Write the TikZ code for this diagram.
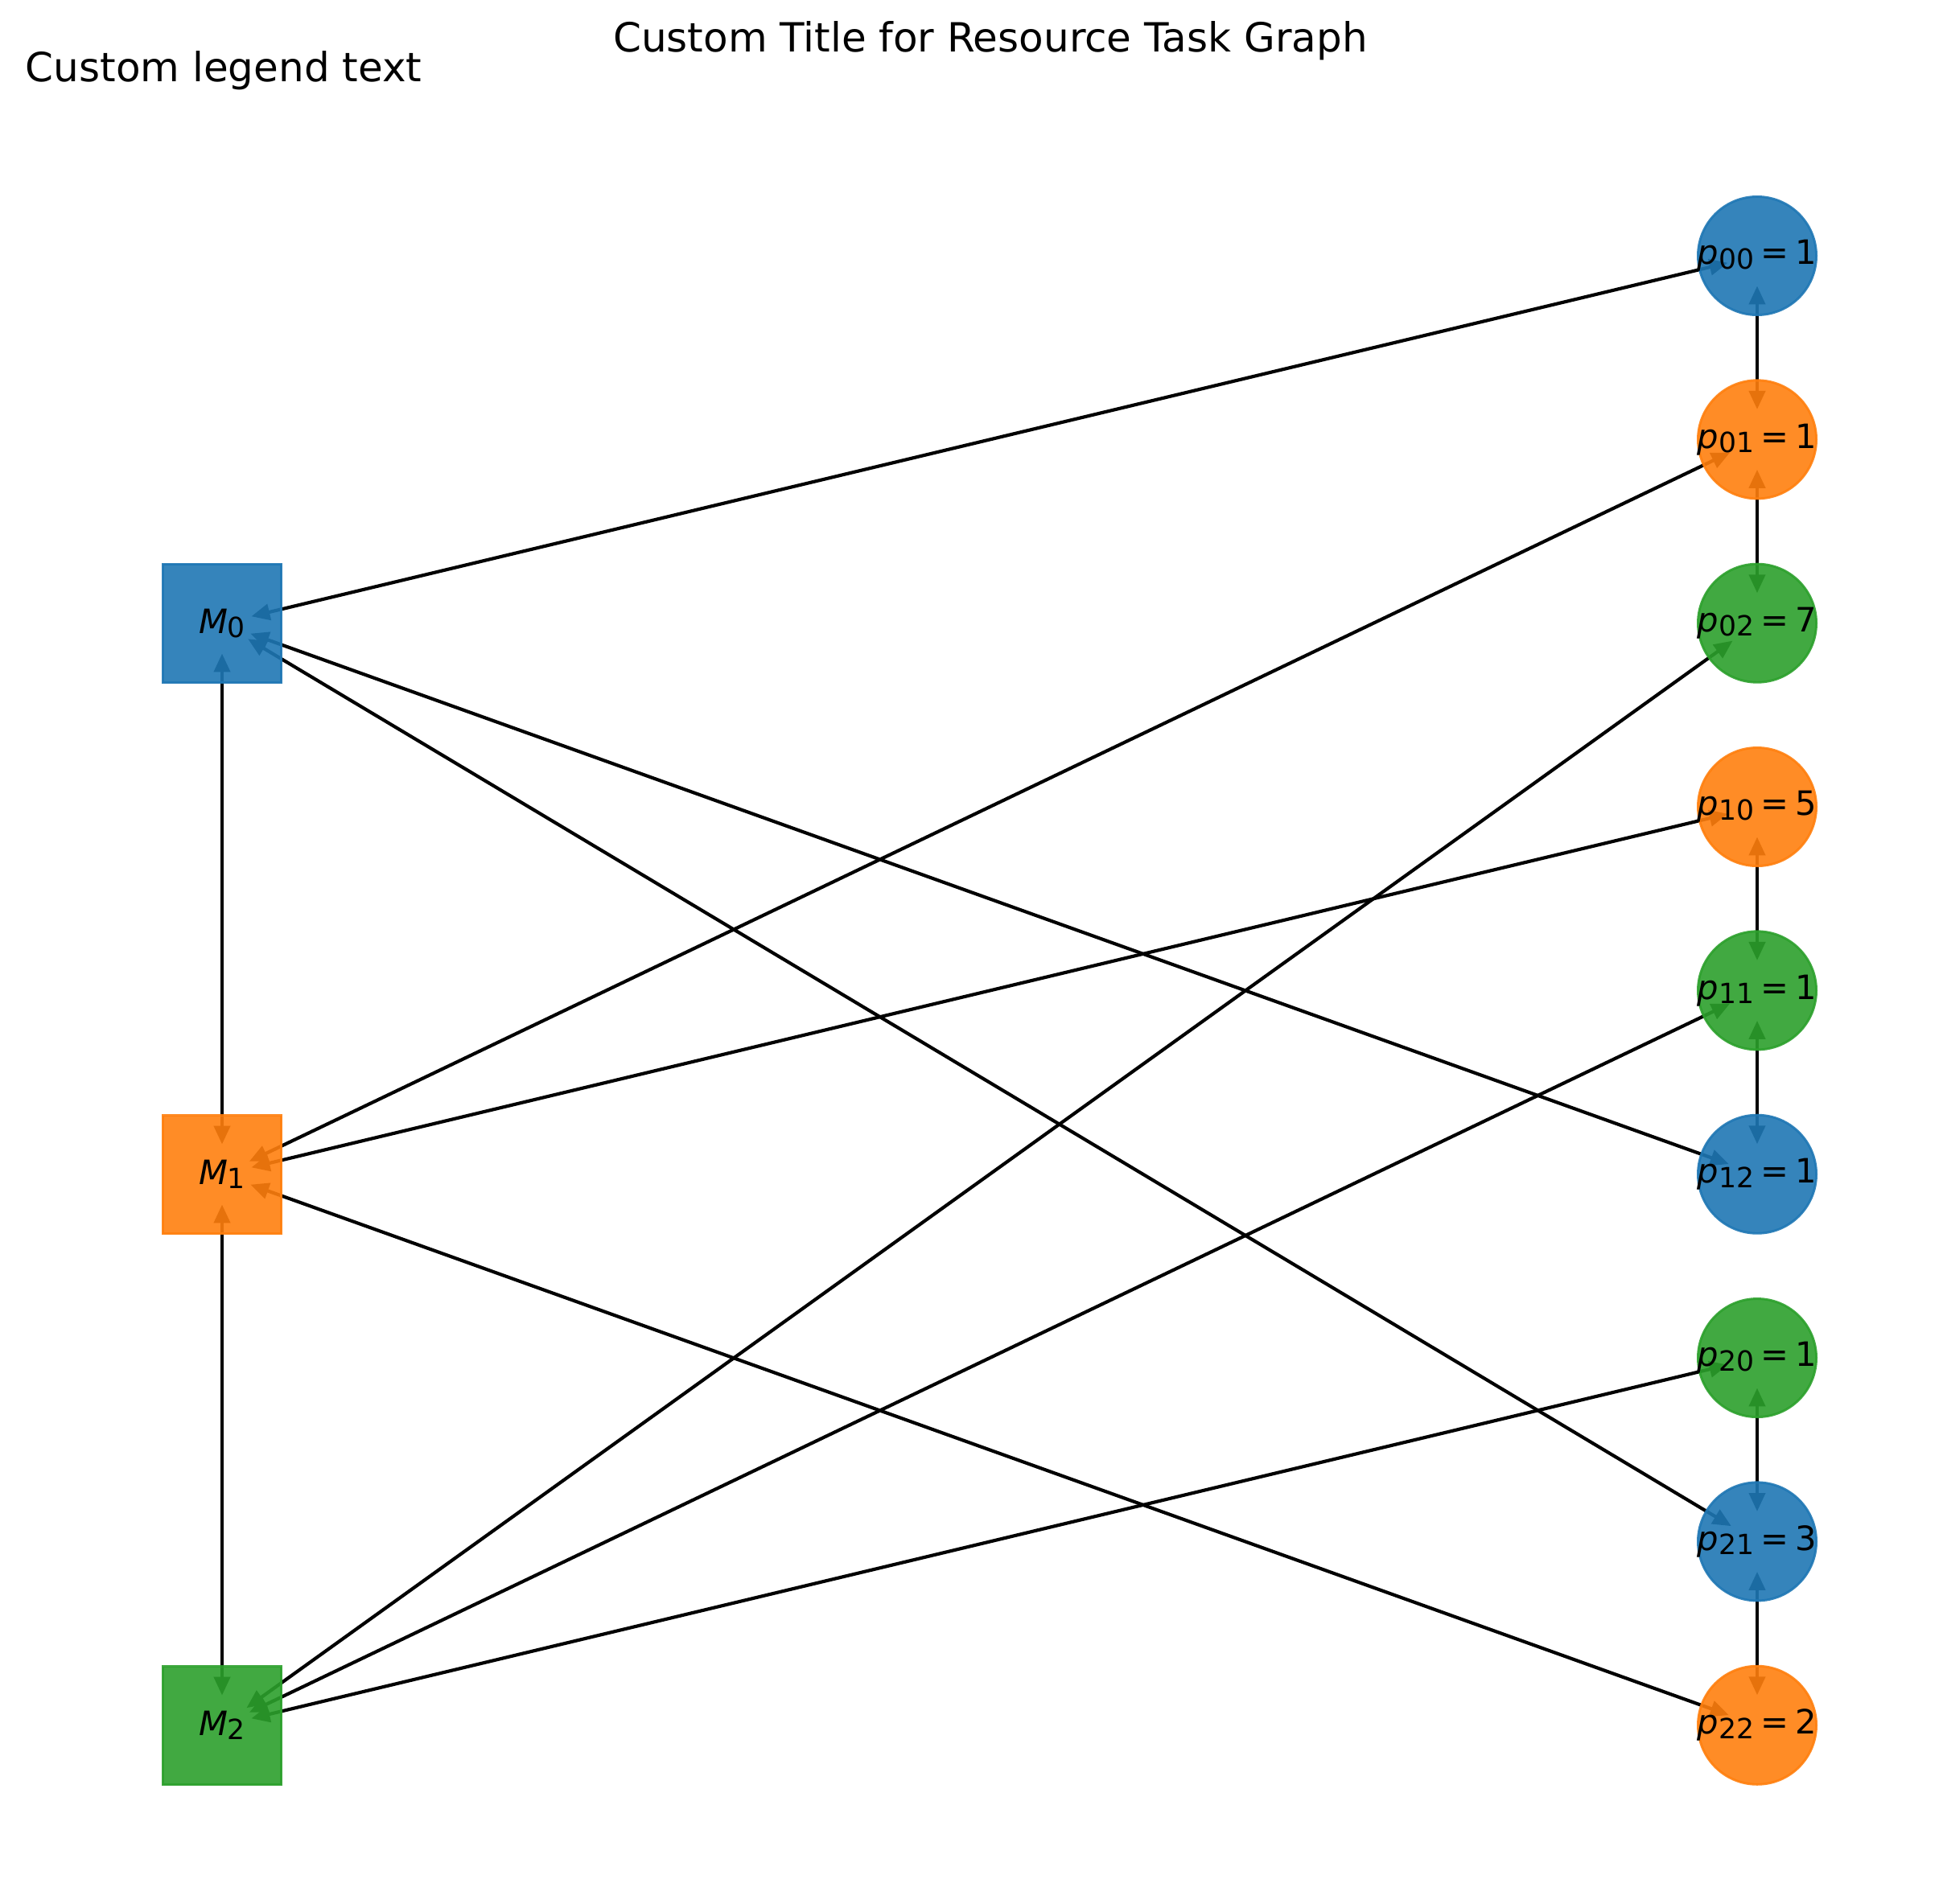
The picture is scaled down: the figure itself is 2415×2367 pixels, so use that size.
\documentclass[tikz,border=0pt]{standalone}
\usepackage{fontspec}
\setmainfont{DejaVu Sans}
\usetikzlibrary{arrows.meta, backgrounds, positioning}

\definecolor{tblue}{HTML}{1F77B4}
\definecolor{torange}{HTML}{FF7F0E}
\definecolor{tgreen}{HTML}{2CA02C}

\newcommand{\subdigits}[1]{\raisebox{-1.3bp}{\fontsize{8.3bp}{9bp}\selectfont #1}}
\newcommand{\tasklab}[2]{\makebox[0pt]{\textit{p}\subdigits{#1}\hspace{0.2em}=\hspace{0.2em}#2}}
\newcommand{\machlab}[1]{\makebox[0pt]{\textit{M}\subdigits{#1}}}

\begin{document}
\begin{tikzpicture}[x=0.24bp, y=-0.24bp,
  machine/.style={rectangle, minimum size=35.3bp, inner sep=0pt, line width=0.7bp,
                  fill opacity=0.9, draw opacity=0.9, text opacity=1,
                  font=\fontsize{10bp}{12bp}\selectfont},
  task/.style={machine, circle},
  link/.style={line width=1bp,
               {Triangle[length=5.5bp, width=4.8bp]}-{Triangle[length=5.5bp, width=4.8bp]},
               shorten <=9bp, shorten >=9bp},
  node distance=54.8bp]

\useasboundingbox (0,0) rectangle (2415,2367);

\node [font=\fontsize{12bp}{14.4bp}\selectfont                      ] (title)  at (1231,51) {Custom Title for Resource Task Graph};
\node [font=\fontsize{12bp}{14.4bp}\selectfont, anchor=west, inner sep=0pt] (legend) at (31,88)   {Custom legend text};

\node [task, draw=tblue  , fill=tblue                 ] (p00) at (2184,318) {\tasklab{00}{1}};
\node [task, draw=torange, fill=torange, below of=p00 ] (p01) {\tasklab{01}{1}};
\node [task, draw=tgreen , fill=tgreen , below of=p01 ] (p02) {\tasklab{02}{7}};
\node [task, draw=torange, fill=torange, below of=p02 ] (p10) {\tasklab{10}{5}};
\node [task, draw=tgreen , fill=tgreen , below of=p10 ] (p11) {\tasklab{11}{1}};
\node [task, draw=tblue  , fill=tblue  , below of=p11 ] (p12) {\tasklab{12}{1}};
\node [task, draw=tgreen , fill=tgreen , below of=p12 ] (p20) {\tasklab{20}{1}};
\node [task, draw=tblue  , fill=tblue  , below of=p20 ] (p21) {\tasklab{21}{3}};
\node [task, draw=torange, fill=torange, below of=p21 ] (p22) {\tasklab{22}{2}};

\node [machine, draw=tblue  , fill=tblue                                       ] (m0) at (276,775) {\machlab{0}};
\node [machine, draw=torange, fill=torange, node distance=164.4bp, below of=m0 ] (m1) {\machlab{1}};
\node [machine, draw=tgreen , fill=tgreen , node distance=164.4bp, below of=m1 ] (m2) {\machlab{2}};

\begin{scope}[on background layer]
\draw [link] (m0.center) -- (m1.center);
\draw [link] (m1.center) -- (m2.center);

\draw [link] (p00.center) -- (p01.center);
\draw [link] (p01.center) -- (p02.center);
\draw [link] (p10.center) -- (p11.center);
\draw [link] (p11.center) -- (p12.center);
\draw [link] (p20.center) -- (p21.center);
\draw [link] (p21.center) -- (p22.center);

\draw [link] (m0.center) -- (p00.center);
\draw [link] (m0.center) -- (p12.center);
\draw [link] (m0.center) -- (p21.center);

\draw [link] (m1.center) -- (p01.center);
\draw [link] (m1.center) -- (p10.center);
\draw [link] (m1.center) -- (p22.center);

\draw [link] (m2.center) -- (p02.center);
\draw [link] (m2.center) -- (p11.center);
\draw [link] (m2.center) -- (p20.center);
\end{scope}

\end{tikzpicture}
\end{document}
